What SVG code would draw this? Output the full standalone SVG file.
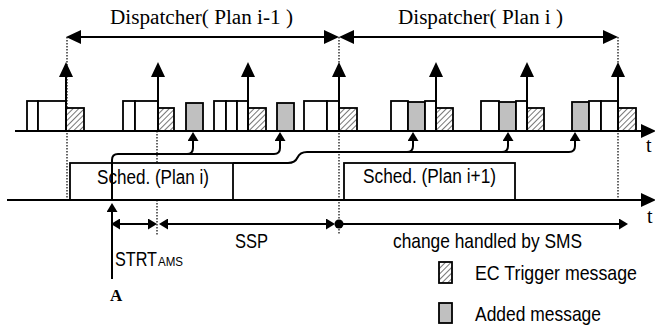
<svg xmlns="http://www.w3.org/2000/svg" width="655" height="336" viewBox="0 0 655 336">
<style>
.ln{stroke:#000;stroke-width:2;fill:none}
.bx{stroke:#000;stroke-width:1.8;fill:#fff}
.gr{stroke:#000;stroke-width:1.8;fill:#c0c0c0}
.ht{stroke:#000;stroke-width:1.8;fill:url(#hatch)}
.dot{stroke:#000;stroke-width:1.2;stroke-dasharray:1.5,1.5;fill:none}
.serif{font-family:"Liberation Serif","Times New Roman",serif;fill:#000}
.sans{font-family:"Liberation Sans",Arial,sans-serif;fill:#000}
</style>
<defs>
<pattern id="hatch" patternUnits="userSpaceOnUse" width="4" height="4" patternTransform="rotate(45)">
<rect width="4" height="4" fill="#fff"/>
<line x1="0" y1="0" x2="0" y2="4" stroke="#777" stroke-width="2"/>
</pattern>
<marker id="big" markerUnits="userSpaceOnUse" viewBox="0 0 15 14" refX="0" refY="7" markerWidth="15" markerHeight="14" orient="auto-start-reverse">
<path d="M0,0 L15,7 L0,14 z" fill="#000"/>
</marker>
<marker id="sm" markerUnits="userSpaceOnUse" viewBox="0 0 9 11" refX="0" refY="5.5" markerWidth="9" markerHeight="11" orient="auto-start-reverse">
<path d="M0,0 L9,5.5 L0,11 z" fill="#000"/>
</marker>
</defs>
<rect width="655" height="336" fill="#fff"/>

<g id="dispatcher-labels">
<text class="serif" x="110" y="24" font-size="20" textLength="183" lengthAdjust="spacingAndGlyphs">Dispatcher( Plan i-1 )</text>
<text class="serif" x="398" y="24" font-size="20" textLength="165" lengthAdjust="spacingAndGlyphs">Dispatcher( Plan i )</text>
</g>

<g id="guides">
<line class="dot" x1="67" y1="37" x2="67" y2="201"/>
<line class="dot" x1="157" y1="131" x2="157" y2="235"/>
<line class="dot" x1="339" y1="37" x2="339" y2="234"/>
<line class="dot" x1="618" y1="37" x2="618" y2="201"/>
</g>

<g id="messages">
<rect class="bx" x="27" y="101" width="11" height="30"/>
<rect class="bx" x="38" y="101" width="28" height="30"/>
<rect class="ht" x="66" y="108" width="18" height="23"/>

<rect class="bx" x="123" y="101" width="12" height="30"/>
<rect class="bx" x="135" y="101" width="23" height="30"/>
<rect class="ht" x="158" y="108" width="16" height="23"/>
<rect class="gr" x="186" y="103" width="17" height="28"/>

<rect class="bx" x="214" y="101" width="12" height="30"/>
<rect class="bx" x="226" y="101" width="11" height="30"/>
<rect class="bx" x="237" y="101" width="11" height="30"/>
<rect class="ht" x="248" y="108" width="18" height="23"/>
<rect class="gr" x="277" y="103" width="17" height="28"/>

<rect class="bx" x="304" y="101" width="23" height="30"/>
<rect class="bx" x="327" y="101" width="12" height="30"/>
<rect class="ht" x="339" y="108" width="18" height="23"/>

<rect class="bx" x="391" y="101" width="17" height="30"/>
<rect class="gr" x="408" y="102" width="17" height="29"/>
<rect class="bx" x="425" y="101" width="11" height="30"/>
<rect class="ht" x="436" y="108" width="17" height="23"/>

<rect class="bx" x="481" y="101" width="18" height="30"/>
<rect class="gr" x="499" y="102" width="17" height="29"/>
<rect class="bx" x="516" y="101" width="11" height="30"/>
<rect class="ht" x="527" y="108" width="17" height="23"/>

<rect class="gr" x="572" y="102" width="17" height="29"/>
<rect class="bx" x="589" y="101" width="12" height="30"/>
<rect class="bx" x="601" y="101" width="17" height="30"/>
<rect class="ht" x="618" y="108" width="18" height="23"/>
</g>

<g id="sched-plan-i">
<rect class="bx" x="70" y="163" width="163" height="37"/>
<text class="sans" x="97" y="184" font-size="20" textLength="112" lengthAdjust="spacingAndGlyphs">Sched. (Plan i)</text>
</g>
<g id="sched-plan-i1">
<rect class="bx" x="344" y="163" width="171" height="37"/>
<text class="sans" x="363" y="183" font-size="20" textLength="133" lengthAdjust="spacingAndGlyphs">Sched. (Plan i+1)</text>
</g>

<g id="connectors">
<line class="ln" x1="15" y1="131" x2="641" y2="131" marker-end="url(#big)"/>
<line class="ln" x1="7" y1="200" x2="641" y2="200" marker-end="url(#big)"/>
<line class="ln" x1="81" y1="37" x2="324" y2="37" marker-start="url(#big)" marker-end="url(#big)"/>
<line class="ln" x1="354" y1="37" x2="603" y2="37" marker-start="url(#big)" marker-end="url(#big)"/>
<line class="ln" x1="66" y1="131" x2="66" y2="77" marker-end="url(#big)"/>
<line class="ln" x1="158" y1="131" x2="158" y2="77" marker-end="url(#big)"/>
<line class="ln" x1="248" y1="131" x2="248" y2="77" marker-end="url(#big)"/>
<line class="ln" x1="339" y1="131" x2="339" y2="77" marker-end="url(#big)"/>
<line class="ln" x1="436" y1="131" x2="436" y2="77" marker-end="url(#big)"/>
<line class="ln" x1="527" y1="131" x2="527" y2="77" marker-end="url(#big)"/>
<line class="ln" x1="618" y1="131" x2="618" y2="77" marker-end="url(#big)"/>
<path class="ln" d="M112,279 V212" marker-end="url(#sm)"/>
<path class="ln" d="M112,200 V160 Q112,154 118,154 H187 Q193,154 193,148 V141" marker-end="url(#sm)"/>
<path class="ln" d="M187,154 H274 Q280,154 280,148 V141" marker-end="url(#sm)"/>
<path class="ln" d="M233,163 H288 Q295,163 297.5,157.5 Q300,152 307,152 H407 Q413,152 413,146 V141" marker-end="url(#sm)"/>
<path class="ln" d="M407,152 H502 Q508,152 508,146 V141" marker-end="url(#sm)"/>
<path class="ln" d="M502,152 H569 Q575,152 575,146 V141" marker-end="url(#sm)"/>
<line class="ln" x1="120" y1="224" x2="148" y2="224" marker-start="url(#sm)" marker-end="url(#sm)"/>
<line class="ln" x1="168" y1="224" x2="326" y2="224" marker-start="url(#sm)" marker-end="url(#sm)"/>
<circle cx="339" cy="224" r="4.5" fill="#000"/>
<line class="ln" x1="339" y1="224" x2="619" y2="224" marker-end="url(#sm)"/>
</g>

<g id="labels">
<text class="serif" x="646" y="152" font-size="20">t</text>
<text class="serif" x="647" y="223" font-size="20">t</text>
<text class="sans" x="235" y="248" font-size="21" textLength="33" lengthAdjust="spacingAndGlyphs">SSP</text>
<text class="sans" x="115" y="266" font-size="21" textLength="42" lengthAdjust="spacingAndGlyphs">STRT</text>
<text class="sans" x="158" y="266" font-size="13" textLength="25" lengthAdjust="spacingAndGlyphs">AMS</text>
<text class="serif" x="110" y="301" font-size="17" font-weight="bold">A</text>
<text class="sans" x="393" y="248" font-size="21" textLength="189" lengthAdjust="spacingAndGlyphs">change handled by SMS</text>
</g>

<g id="legend">
<rect class="ht" x="439" y="262" width="13" height="21"/>
<text class="sans" x="475" y="280" font-size="21" textLength="162" lengthAdjust="spacingAndGlyphs">EC Trigger message</text>
<rect class="gr" x="439" y="303" width="13" height="20"/>
<text class="sans" x="475" y="321" font-size="21" textLength="126" lengthAdjust="spacingAndGlyphs">Added message</text>
</g>
</svg>
